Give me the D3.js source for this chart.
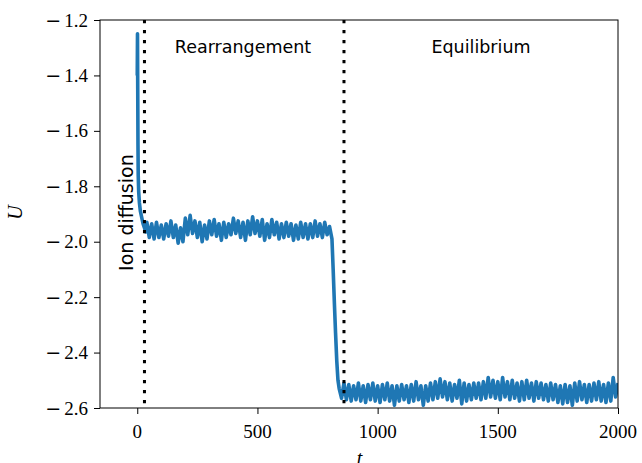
<!DOCTYPE html>
<html>
<head>
<meta charset="utf-8">
<script src="https://cdn.jsdelivr.net/npm/d3@7"></script>
<style>
  body { margin: 0; background: #fff; }
</style>
</head>
<body>
<div id="chart"></div>
<script>
// Energy U(t), [t, U] pairs per phase
const transient = [
  [0, -1.40], [1, -1.25], [2, -1.45], [3, -1.65], [4, -1.76], [6, -1.82], [9, -1.86],
  [13, -1.89], [18, -1.91], [24, -1.935], [30, -1.95], [35, -1.965]
];
const plateau = [
  [40, -1.93], [50, -1.985], [60, -1.935], [70, -1.99], [80, -1.93], [90, -1.985], [100, -1.94],
  [110, -1.99], [120, -1.935], [130, -1.98], [140, -1.925], [150, -1.985], [160, -1.94], [170, -2.005],
  [180, -1.95], [190, -2.0], [200, -1.915], [210, -1.975], [220, -1.905], [230, -1.97], [240, -1.925],
  [250, -1.985], [260, -1.93], [270, -2.0], [280, -1.94], [290, -1.99], [300, -1.925], [310, -1.975],
  [320, -1.92], [330, -1.98], [340, -1.935], [350, -1.995], [360, -1.93], [370, -1.985], [380, -1.935],
  [390, -1.975], [400, -1.915], [410, -1.97], [420, -1.925], [430, -1.985], [440, -1.93], [450, -1.995],
  [460, -1.925], [470, -1.975], [480, -1.91], [490, -1.97], [500, -1.925], [510, -1.98], [520, -1.92],
  [530, -1.995], [540, -1.935], [550, -1.985], [560, -1.92], [570, -1.975], [580, -1.93], [590, -1.99],
  [600, -1.935], [610, -1.985], [620, -1.93], [630, -1.98], [640, -1.935], [650, -1.995], [660, -1.94],
  [670, -1.99], [680, -1.93], [690, -1.985], [700, -1.935], [710, -1.99], [720, -1.935], [730, -1.985],
  [740, -1.925], [750, -1.98], [760, -1.935], [770, -1.985], [780, -1.93], [790, -1.975], [800, -1.945]
];
const drop = [
  [810, -1.99], [815, -2.10], [820, -2.22], [825, -2.33], [830, -2.43], [835, -2.50], [840, -2.53]
];
const equilibrium = [
  [850, -2.565], [860, -2.51], [870, -2.57], [880, -2.515], [890, -2.575], [900, -2.52], [910, -2.57],
  [920, -2.51], [930, -2.575], [940, -2.52], [950, -2.58], [960, -2.515], [970, -2.57], [980, -2.51],
  [990, -2.575], [1000, -2.52], [1010, -2.58], [1020, -2.515], [1030, -2.57], [1040, -2.51], [1050, -2.575],
  [1060, -2.52], [1070, -2.59], [1080, -2.52], [1090, -2.575], [1100, -2.515], [1110, -2.57], [1120, -2.52],
  [1130, -2.58], [1140, -2.515], [1150, -2.575], [1160, -2.505], [1170, -2.57], [1180, -2.52], [1190, -2.59],
  [1200, -2.52], [1210, -2.575], [1220, -2.51], [1230, -2.57], [1240, -2.505], [1250, -2.565], [1260, -2.495],
  [1270, -2.56], [1280, -2.505], [1290, -2.57], [1300, -2.51], [1310, -2.575], [1320, -2.515], [1330, -2.565],
  [1340, -2.5], [1350, -2.585], [1360, -2.51], [1370, -2.575], [1380, -2.515], [1390, -2.57], [1400, -2.51],
  [1410, -2.565], [1420, -2.51], [1430, -2.57], [1440, -2.505], [1450, -2.565], [1460, -2.49], [1470, -2.56],
  [1480, -2.5], [1490, -2.565], [1500, -2.505], [1510, -2.57], [1520, -2.49], [1530, -2.56], [1540, -2.505],
  [1550, -2.57], [1560, -2.5], [1570, -2.565], [1580, -2.51], [1590, -2.575], [1600, -2.505], [1610, -2.57],
  [1620, -2.5], [1630, -2.565], [1640, -2.51], [1650, -2.575], [1660, -2.505], [1670, -2.565], [1680, -2.51],
  [1690, -2.57], [1700, -2.515], [1710, -2.575], [1720, -2.51], [1730, -2.57], [1740, -2.515], [1750, -2.58],
  [1760, -2.52], [1770, -2.585], [1780, -2.515], [1790, -2.58], [1800, -2.52], [1810, -2.59], [1820, -2.51],
  [1830, -2.575], [1840, -2.505], [1850, -2.57], [1860, -2.515], [1870, -2.58], [1880, -2.515], [1890, -2.575],
  [1900, -2.51], [1910, -2.57], [1920, -2.505], [1930, -2.575], [1940, -2.515], [1950, -2.58], [1960, -2.51],
  [1970, -2.575], [1980, -2.49], [1990, -2.56], [2000, -2.51]
];

// phase boundaries (dotted lines) and labels
const phaseBounds = [30, 860];
const phaseLabels = ["Rearrangement", "Equilibrium", "Ion diffusion"];
const xTicks = [0, 500, 1000, 1500, 2000];
const yTicks = [-1.2, -1.4, -1.6, -1.8, -2.0, -2.2, -2.4, -2.6];

const width = 642, height = 463;
const margin = { top: 20, right: 24, bottom: 55, left: 100 };
const innerW = width - margin.left - margin.right;
const innerH = height - margin.top - margin.bottom;

const serif = "Liberation Serif";
const sans = "DejaVu Sans";

const svg = d3.select("#chart")
  .append("svg")
    .attr("width", width)
    .attr("height", height);

const g = svg.append("g")
    .attr("transform", "translate(" + margin.left + "," + margin.top + ")");

const x = d3.scaleLinear().domain([-155, 2000]).range([0, innerW]);
const y = d3.scaleLinear().domain([-2.6, -1.2]).range([innerH, 0]);

// axes: tick marks from d3, labels drawn below with explicit fonts
g.append("g")
    .attr("transform", "translate(0," + innerH + ")")
    .call(d3.axisBottom(x).tickValues(xTicks).tickSize(6).tickFormat(""))
    .call(a => a.select(".domain").remove());
g.append("g")
    .call(d3.axisLeft(y).tickValues(yTicks).tickSize(6).tickFormat(""))
    .call(a => a.select(".domain").remove());
g.selectAll(".tick line").attr("stroke", "#000").attr("stroke-width", 1);

g.selectAll(".xlab")
  .data(xTicks)
  .enter().append("text")
    .attr("x", d => x(d))
    .attr("y", innerH + 30)
    .attr("text-anchor", "middle")
    .attr("font-family", serif)
    .attr("font-size", 19)
    .text(d => d3.format("d")(d));

const ylab = g.selectAll(".ylab")
  .data(yTicks)
  .enter().append("text")
    .attr("x", -12)
    .attr("y", d => y(d) + 6.5)
    .attr("text-anchor", "end")
    .attr("font-family", serif)
    .attr("font-size", 19);
ylab.append("tspan")
    .attr("font-family", "DejaVu Serif")
    .text("\u2212");
ylab.append("tspan")
    .attr("dx", 3)
    .text(d => d3.format(".1f")(Math.abs(d)));

// clip to the axes box
g.append("clipPath").attr("id", "clip")
  .append("rect").attr("width", innerW).attr("height", innerH);

const series = transient.concat(plateau, drop, equilibrium);
const line = d3.line()
    .x(d => x(d[0]))
    .y(d => y(d[1]));

g.append("path")
    .datum(series)
    .attr("clip-path", "url(#clip)")
    .attr("d", line)
    .attr("fill", "none")
    .attr("stroke", "#1f77b4")
    .attr("stroke-width", 3.6)
    .attr("stroke-linejoin", "round");

// dotted phase boundaries
g.selectAll(".bound")
  .data(phaseBounds)
  .enter().append("line")
    .attr("x1", d => x(d)).attr("x2", d => x(d))
    .attr("y1", 0).attr("y2", innerH)
    .attr("stroke", "#000")
    .attr("stroke-width", 3)
    .attr("stroke-dasharray", "3.3,6.7");

// frame
g.append("rect")
    .attr("width", innerW).attr("height", innerH)
    .attr("fill", "none").attr("stroke", "#000").attr("stroke-width", 1);

// phase labels
g.append("text")
    .attr("x", x(440)).attr("y", 33)
    .attr("text-anchor", "middle")
    .attr("font-family", sans).attr("font-size", 17.5)
    .text(phaseLabels[0]);
g.append("text")
    .attr("x", x(1430)).attr("y", 33)
    .attr("text-anchor", "middle")
    .attr("font-family", sans).attr("font-size", 17.5)
    .text(phaseLabels[1]);
g.append("text")
    .attr("transform", "translate(" + x(-18) + "," + y(-1.895) + ") rotate(-90)")
    .attr("text-anchor", "middle")
    .attr("font-family", sans).attr("font-size", 19)
    .text(phaseLabels[2]);

// axis labels
svg.append("text")
    .attr("x", margin.left + x(925)).attr("y", 465)
    .attr("text-anchor", "middle")
    .attr("font-family", serif).attr("font-style", "italic").attr("font-size", 20)
    .text("t");
svg.append("text")
    .attr("transform", "translate(22," + (margin.top + y(-1.895)) + ") rotate(-90)")
    .attr("text-anchor", "middle")
    .attr("font-family", serif).attr("font-style", "italic").attr("font-size", 20)
    .text("U");
</script>
</body>
</html>
